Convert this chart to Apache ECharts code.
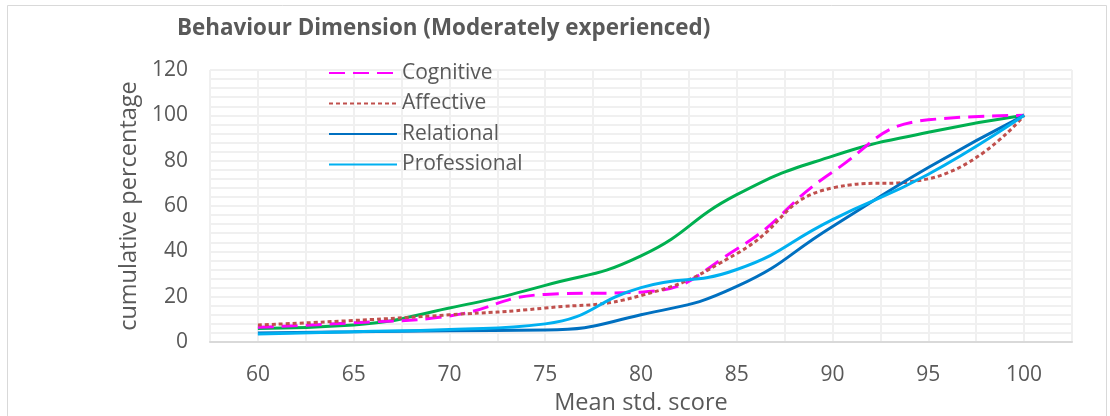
<!DOCTYPE html>
<html>
<head>
<meta charset="utf-8">
<script src="https://cdn.jsdelivr.net/npm/echarts@6/dist/echarts.min.js"></script>
<style>
html,body{margin:0;padding:0;background:#fff;}
#c{width:1110px;height:416px;}
</style>
</head>
<body>
<div id="c"></div>
<script>
// Data
const xScores = [60, 65, 70, 75, 80, 85, 90, 95, 100];
const cognitive    = [6.5, 8.5, 11.5, 21, 22, 41, 75, 98, 100];
const affective    = [7.5, 9.5, 12, 15, 20.5, 39, 68, 72, 100];
const relational   = [4, 4.5, 5, 5.3, 12, 24.5, 51, 77, 100];
const professional = [3.5, 4.5, 5.5, 8, 24, 32, 54, 74, 100];
const overall      = [6, 7.5, 15, 25, 38, 65, 82, 92.5, 100];
const yTicks = [0, 20, 40, 60, 80, 100, 120];

const font = '"Open Sans", "Liberation Sans", sans-serif';
const txt = '#595959';
const pair = arr => xScores.map((x, i) => [x, arr[i]]);

const chart = echarts.init(document.getElementById('c'), null, {renderer: 'canvas'});
const mk = (name, data, color, type, width) => ({
  name, type: 'line', data: pair(data), smooth: 0.5, symbol: 'none', showSymbol: false,
  lineStyle: {color, width, type, cap: 'butt'}, itemStyle: {color}
});
chart.setOption({
  animation: false,
  backgroundColor: '#fff',
  graphic: [{
    type: 'rect', shape: {x: 7.5, y: 5.5, width: 1099, height: 430},
    style: {fill: 'none', stroke: '#d9d9d9', lineWidth: 1}, silent: true, z: -10
  }],
  title: {
    text: 'Behaviour Dimension (Moderately experienced)',
    left: 172, top: 13,
    textStyle: {fontFamily: font, fontSize: 22.4, fontWeight: 'bold', color: txt}
  },
  legend: {
    data: ['Cognitive', 'Affective', 'Relational', 'Professional'],
    orient: 'vertical', left: 323, top: 56,
    itemWidth: 68, itemHeight: 14, itemGap: 6.5,
    itemStyle: {opacity: 0},
    textStyle: {fontFamily: font, fontSize: 21, lineHeight: 24, color: txt, padding: [0, 0, 0, 0]}
  },
  grid: {left: 210, right: 38, top: 70, bottom: 74, outerBoundsMode: 'none', containLabel: false},
  xAxis: {
    type: 'value', min: 57.5, max: 102.5, interval: 2.5,
    name: 'Mean std. score', nameLocation: 'middle', nameGap: 44,
    nameTextStyle: {fontFamily: font, fontSize: 23.5, color: txt},
    axisLine: {show: true, lineStyle: {color: '#d9d9d9', width: 2}},
    axisTick: {show: false},
    axisLabel: {
      fontFamily: font, fontSize: 21, color: txt, margin: 23,
      showMinLabel: true, showMaxLabel: true,
      formatter: v => (Math.abs(v % 5) < 1e-6 && xScores.includes(v)) ? String(v) : ''
    },
    splitLine: {show: true, lineStyle: {color: '#f0f0f0', width: 2}}
  },
  yAxis: {
    type: 'value', min: yTicks[0], max: yTicks[yTicks.length - 1], interval: 20,
    name: 'cumulative percentage', nameLocation: 'middle', nameGap: 64,
    nameTextStyle: {fontFamily: font, fontSize: 23.5, color: txt},
    axisLine: {show: false}, axisTick: {show: false},
    axisLabel: {fontFamily: font, fontSize: 21, color: txt, margin: 22},
    splitLine: {show: true, lineStyle: {color: '#f0f0f0', width: 2}},
    minorTick: {show: false, splitNumber: 5},
    minorSplitLine: {show: true, lineStyle: {color: '#f0f0f0', width: 2}}
  },
  series: [
    mk('Overall', overall, '#00b050', 'solid', 3),
    mk('Cognitive', cognitive, '#ff00ff', [16, 8], 3),
    mk('Affective', affective, '#c0504d', [4, 3], 3),
    mk('Relational', relational, '#0070c0', 'solid', 3),
    mk('Professional', professional, '#00b0f0', 'solid', 3)
  ]
});
</script>
</body>
</html>
